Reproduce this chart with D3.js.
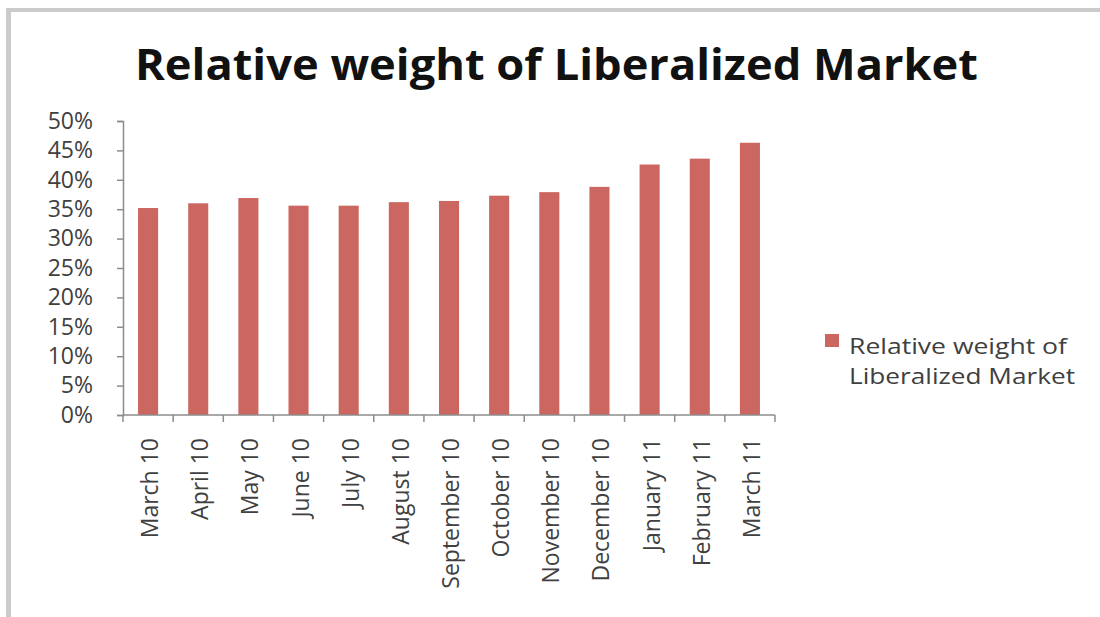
<!DOCTYPE html>
<html>
<head>
<meta charset="utf-8">
<script src="https://cdn.jsdelivr.net/npm/d3@7"></script>
<style>
    body { margin: 0; background: #fff; }
    svg { display: block; font-family: "Open Sans", sans-serif; }
</style>
</head>
<body>
<div id="chart"></div>
<script>
// Data
const months = ["March 10", "April 10", "May 10", "June 10", "July 10", "August 10",
    "September 10", "October 10", "November 10", "December 10", "January 11", "February 11", "March 11"];
const weights = [0.352, 0.360, 0.369, 0.356, 0.356, 0.362, 0.364, 0.373, 0.379, 0.388, 0.426, 0.436, 0.463];
const yTicks = [0, 0.05, 0.10, 0.15, 0.20, 0.25, 0.30, 0.35, 0.40, 0.45, 0.50];
const seriesName = "Relative weight of Liberalized Market";
const legendLines = ["Relative weight of", "Liberalized Market"];

const width = 1100;
const height = 617;
const barColor = "#cc6660";
const axisColor = "#8c8c8c";

const svg = d3.select("#chart").append("svg")
    .attr("width", width)
    .attr("height", height);

// frame of the pasted chart (top and left edge only)
svg.append("rect").attr("x", 6).attr("y", 8).attr("width", width - 6).attr("height", 4).attr("fill", "#cbcbcb");
svg.append("rect").attr("x", 6).attr("y", 8).attr("width", 5).attr("height", height - 8).attr("fill", "#cbcbcb");

// title
svg.append("text")
    .attr("x", 135)
    .attr("y", 80)
    .attr("textLength", 843)
    .attr("lengthAdjust", "spacingAndGlyphs")
    .attr("font-size", 43)
    .attr("font-weight", "bold")
    .attr("fill", "#111")
    .text(seriesName);

const x = d3.scaleBand()
    .domain(months)
    .range([123, 775])
    .paddingInner(0.6)
    .paddingOuter(0.3);

const y = d3.scaleLinear()
    .domain([0, 0.5])
    .range([415, 121]);

// bars
svg.append("g")
    .selectAll("rect")
    .data(months)
    .join("rect")
    .attr("x", d => x(d))
    .attr("y", (d, i) => y(weights[i]))
    .attr("width", x.bandwidth())
    .attr("height", (d, i) => y(0) - y(weights[i]))
    .attr("fill", barColor);

// y axis
const yAxis = svg.append("g")
    .attr("transform", "translate(123,0)")
    .call(d3.axisLeft(y).tickValues(yTicks).tickFormat(d3.format(".0%")).tickSize(6).tickPadding(24));
yAxis.select(".domain").attr("stroke", axisColor).attr("stroke-width", 1.5);
yAxis.selectAll(".tick line").attr("stroke", axisColor).attr("stroke-width", 1.5);
yAxis.selectAll(".tick text")
    .attr("font-size", 23)
    .attr("fill", "#404040")
    .attr("font-family", "Open Sans, sans-serif");

// x axis: line, ticks between categories, rotated labels
const step = x.step();
const x0 = x.range()[0];
svg.append("line")
    .attr("x1", x0).attr("x2", x.range()[1])
    .attr("y1", y(0)).attr("y2", y(0))
    .attr("stroke", axisColor).attr("stroke-width", 1.5);

svg.append("g")
    .selectAll("line")
    .data(d3.range(months.length + 1))
    .join("line")
    .attr("x1", i => x0 + i * step)
    .attr("x2", i => x0 + i * step)
    .attr("y1", y(0))
    .attr("y2", y(0) + 7)
    .attr("stroke", axisColor)
    .attr("stroke-width", 1.5);

svg.append("g")
    .selectAll("text")
    .data(months)
    .join("text")
    .attr("transform", d => `translate(${x(d) + x.bandwidth() / 2 + 10},438) rotate(-90)`)
    .attr("text-anchor", "end")
    .attr("font-size", 23)
    .attr("fill", "#404040")
    .text(d => d);

// legend
svg.append("rect")
    .attr("x", 825).attr("y", 334)
    .attr("width", 14).attr("height", 13)
    .attr("fill", barColor);

const legendWidths = [218, 226];
svg.append("g")
    .selectAll("text")
    .data(legendLines)
    .join("text")
    .attr("x", 849)
    .attr("y", (d, i) => 354 + i * 30)
    .attr("font-size", 21)
    .attr("textLength", (d, i) => legendWidths[i])
    .attr("lengthAdjust", "spacingAndGlyphs")
    .attr("fill", "#404040")
    .text(d => d);
</script>
</body>
</html>
